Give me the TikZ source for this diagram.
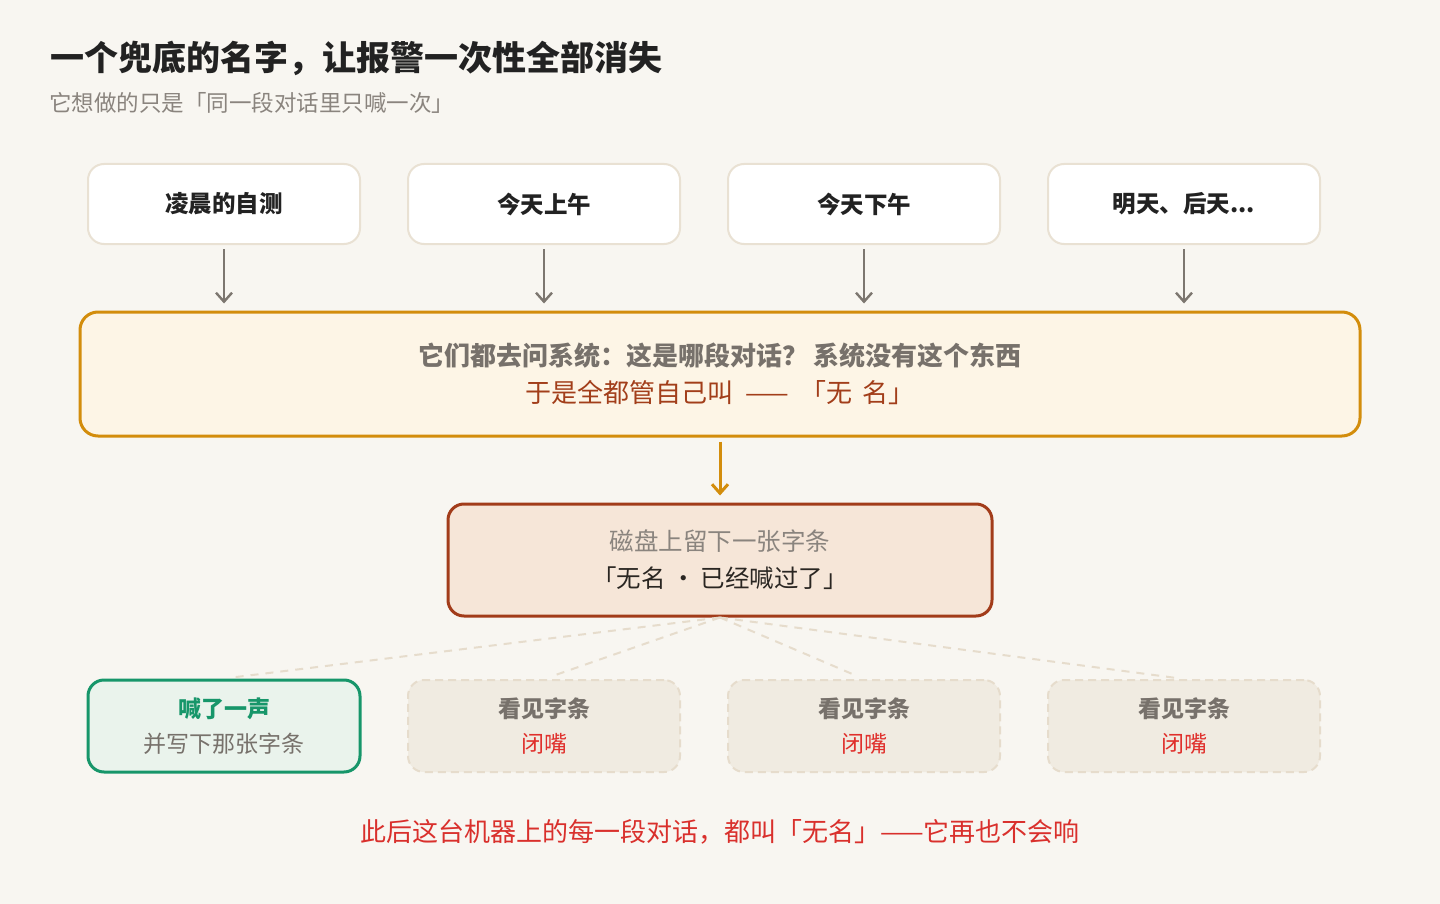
\documentclass[tikz,border=0pt]{standalone}
\usepackage{fontspec}
\setmainfont{Noto Sans CJK SC}
\usetikzlibrary{arrows.meta}
\definecolor{bg}{HTML}{F8F6F1}
\definecolor{titlec}{HTML}{222222}
\definecolor{subc}{HTML}{8A847E}
\definecolor{cardline}{HTML}{E9E1D3}
\definecolor{arrgray}{HTML}{7D7770}
\definecolor{ambfill}{HTML}{FDF5E6}
\definecolor{ambline}{HTML}{D38D0C}
\definecolor{graytxt}{HTML}{77716B}
\definecolor{rusttxt}{HTML}{A23E1A}
\definecolor{notefill}{HTML}{F6E6D8}
\definecolor{noteline}{HTML}{A23C1A}
\definecolor{darktxt}{HTML}{2A2622}
\definecolor{grnfill}{HTML}{EAF3EC}
\definecolor{grnline}{HTML}{17966A}
\definecolor{mutefill}{HTML}{F0EBE1}
\definecolor{muteline}{HTML}{E6DCCC}
\definecolor{redtxt}{HTML}{E0302C}
\definecolor{endred}{HTML}{D9302C}
\tikzset{
  topcard/.style={draw=cardline, line width=2pt, fill=white, rounded corners=16pt,
    minimum width=272pt, minimum height=80pt, inner sep=0pt,
    font=\fontsize{23.5pt}{28pt}\selectfont\bfseries, text=titlec},
  flowarrow/.style={draw=arrgray, line width=2.4pt, -{Straight Barb[length=9pt,width=16pt,line width=2.4pt]}},
  bigbox/.style={draw=ambline, line width=3pt, fill=ambfill, rounded corners=18pt,
    minimum width=1280pt, minimum height=124pt, inner sep=0pt, align=center,
    font=\fontsize{26pt}{37pt}\selectfont},
  notebox/.style={draw=noteline, line width=3pt, fill=notefill, rounded corners=16pt,
    minimum width=544pt, minimum height=112pt, inner sep=0pt, align=center,
    font=\fontsize{24.5pt}{37pt}\selectfont},
  okbox/.style={draw=grnline, line width=3pt, fill=grnfill, rounded corners=16pt,
    minimum width=272pt, minimum height=92pt, inner sep=0pt, align=center,
    font=\fontsize{23pt}{35pt}\selectfont},
  mutebox/.style={draw=muteline, line width=2pt, dash pattern=on 8pt off 5pt, fill=mutefill, rounded corners=16pt,
    minimum width=272pt, minimum height=92pt, inner sep=0pt, align=center,
    font=\fontsize{23pt}{35pt}\selectfont},
  fanline/.style={draw=muteline, line width=2pt, dash pattern=on 8pt off 7pt, shorten >=8pt},
}
\begin{document}
\begin{tikzpicture}[x=1pt,y=-1pt]
\fill[bg] (0,0) rectangle (1440,904);
\useasboundingbox (0,0) rectangle (1440,904);

\node[anchor=base west, text=titlec, font=\fontsize{34pt}{40pt}\selectfont\bfseries, inner sep=0pt] (title) at (50,71) {一个兜底的名字，让报警一次性全部消失};
\node[anchor=base west, text=subc, font=\fontsize{22.5pt}{26pt}\selectfont, inner sep=0pt] (subtitle) at (49,112) {它想做的只是「同一段对话里只喊一次」};

\node[topcard] (t1) at (224,204) {凌晨的自测};
\node[topcard] (t2) at (544,204) {今天上午};
\node[topcard] (t3) at (864,204) {今天下午};
\node[topcard] (t4) at (1184,204) {明天、后天...};

\node[bigbox] (big) at (720,374) {%
  {\bfseries\color{graytxt}它们都去问系统：这是哪段对话？ 系统没有这个东西}\\
  {\color{rusttxt}于是全都管自己叫\hspace{0.45em}——\hspace{0.45em}「无\hspace{0.4em}名」}};

\foreach \t in {t1,t2,t3,t4}
  \draw[flowarrow, shorten <=4pt, shorten >=7pt] (\t.south) -- (\t.south |- big.north);

\node[notebox] (note) at (720,560) {%
  {\color{subc}磁盘上留下一张字条}\\
  {\color{darktxt}「无名 · 已经喊过了」}};

\draw[draw=ambline, line width=3pt, -{Straight Barb[length=9pt,width=16pt,line width=3pt]}, shorten <=4pt, shorten >=7pt] (big.south) -- (note.north);

\node[okbox] (b1) at (224,726) {%
  {\bfseries\color{grnline}喊了一声}\\
  {\color{graytxt}并写下那张字条}};
\node[mutebox] (b2) at (544,726) {%
  {\bfseries\color{graytxt}看见字条}\\
  {\color{redtxt}闭嘴}};
\node[mutebox] (b3) at (864,726) {%
  {\bfseries\color{graytxt}看见字条}\\
  {\color{redtxt}闭嘴}};
\node[mutebox] (b4) at (1184,726) {%
  {\bfseries\color{graytxt}看见字条}\\
  {\color{redtxt}闭嘴}};

\foreach \b in {b1,b2,b3,b4}
  \draw[fanline] (note.south) -- (\b.north);

\node[text=endred, font=\fontsize{26pt}{30pt}\selectfont, inner sep=0pt] (endnote) at (720,832) {此后这台机器上的每一段对话，都叫「无名」——它再也不会响};
\end{tikzpicture}
\end{document}
